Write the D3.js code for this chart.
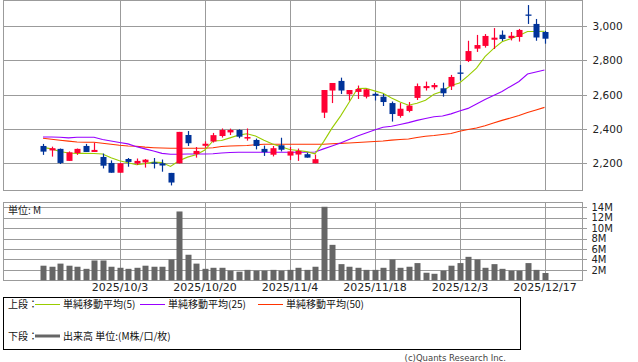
<!DOCTYPE html>
<html><head><meta charset="utf-8">
<script src="https://cdn.jsdelivr.net/npm/d3@7"></script>
<style>
html,body{margin:0;padding:0;background:#fff;}
svg{display:block;}
text{font-family:"DejaVu Sans","Noto Sans CJK JP",sans-serif;}
.jp{font-family:"Noto Sans CJK JP","DejaVu Sans",sans-serif;}
</style></head>
<body>
<svg id="c" width="638" height="362"></svg>
<script>
const dates = ["2025/9/19","2025/9/22","2025/9/24","2025/9/25","2025/9/26","2025/9/29","2025/9/30","2025/10/1","2025/10/2","2025/10/3",
"2025/10/6","2025/10/7","2025/10/8","2025/10/9","2025/10/10","2025/10/14","2025/10/15","2025/10/16","2025/10/17","2025/10/20",
"2025/10/21","2025/10/22","2025/10/23","2025/10/24","2025/10/27","2025/10/28","2025/10/29","2025/10/30","2025/10/31","2025/11/4",
"2025/11/5","2025/11/6","2025/11/7","2025/11/10","2025/11/11","2025/11/12","2025/11/13","2025/11/14","2025/11/17","2025/11/18",
"2025/11/19","2025/11/20","2025/11/21","2025/11/25","2025/11/26","2025/11/27","2025/11/28","2025/12/1","2025/12/2","2025/12/3",
"2025/12/4","2025/12/5","2025/12/8","2025/12/9","2025/12/10","2025/12/11","2025/12/12","2025/12/15","2025/12/16","2025/12/17"];
const open  = [2301,2275,2284,2214,2260,2301,2266,2237,2202,2145,2225,2199,2205,2205,2200,2144,2200,2365,2254,2302,
2327,2359,2380,2394,2344,2336,2284,2250,2305,2245,2251,2253,2200,2495,2624,2680,2602,2616,2588,2605,
2588,2551,2476,2505,2581,2638,2643,2637,2648,2729,2796,2868,2884,2920,2949,2930,2936,3067,3012,2965];
const high  = [2313,2297,2286,2269,2286,2313,2320,2257,2217,2202,2231,2228,2225,2231,2222,2144,2383,2388,2295,2328,
2377,2403,2402,2398,2403,2344,2303,2301,2349,2295,2286,2262,2251,2627,2668,2699,2627,2653,2634,2613,
2604,2560,2551,2557,2665,2676,2668,2670,2715,2773,2914,2948,2953,2988,2974,2965,2983,3122,3041,2971];
const low   = [2249,2239,2196,2214,2249,2266,2266,2170,2145,2145,2180,2190,2175,2170,2151,2071,2199,2301,2233,2291,
2321,2350,2365,2346,2332,2281,2243,2240,2269,2219,2214,2233,2200,2464,2551,2604,2566,2575,2578,2566,
2534,2443,2466,2497,2569,2624,2630,2588,2627,2683,2790,2849,2874,2866,2913,2916,2909,3012,2914,2897];
const close = [2268,2288,2202,2264,2284,2266,2278,2186,2145,2200,2208,2214,2221,2202,2187,2088,2383,2317,2272,2314,
2364,2394,2394,2355,2353,2301,2265,2288,2279,2269,2272,2233,2224,2627,2668,2624,2627,2633,2631,2594,
2557,2487,2518,2536,2650,2650,2656,2608,2703,2723,2854,2889,2942,2932,2924,2943,2977,3064,2933,2926];
const ma5  = [2293,2284,2269,2260,2258,2258,2257,2254,2232,2215,2203,2192,2198,2207,2205,2182,2215,2236,2250,2276,
2330,2333,2348,2364,2372,2359,2334,2312,2297,2280,2275,2268,2255,2325,2405,2475,2554,2636,2637,2622,
2608,2580,2557,2538,2550,2568,2602,2620,2653,2668,2709,2755,2822,2868,2908,2926,2944,2968,2968,2969];
const ma25 = [2353,2353,2352,2348,2352,2352,2352,2339,2330,2321,2313,2297,2284,2272,2258,2253,2253,2254,2254,2254,
2256,2260,2263,2264,2264,2264,2264,2264,2264,2264,2264,2264,2266,2284,2301,2318,2339,2359,2377,2394,
2410,2416,2426,2437,2450,2461,2471,2476,2488,2505,2520,2546,2572,2595,2618,2648,2677,2720,2732,2744];
const ma50 = [2346,2340,2334,2329,2324,2323,2323,2317,2311,2305,2301,2299,2294,2291,2289,2288,2288,2288,2288,2288,
2291,2298,2301,2302,2304,2308,2311,2311,2311,2311,2311,2311,2311,2311,2314,2316,2318,2321,2324,2327,
2330,2335,2339,2342,2350,2358,2362,2368,2374,2387,2397,2406,2419,2435,2450,2464,2479,2496,2511,2526];
const volume = [2.8,2.6,3.2,2.8,2.6,2.2,3.8,3.8,2.6,2.4,2.2,2.4,2.8,2.6,2.6,4.0,13.2,4.9,3.2,2.2,
2.4,2.4,1.85,1.65,2.0,1.85,1.85,2.0,1.85,2.0,2.4,2.0,2.6,14.1,6.8,3.1,2.6,2.4,2.0,2.0,
2.4,4.0,2.4,2.6,3.3,1.45,1.25,1.85,2.8,3.3,4.5,4.0,2.4,3.1,2.2,1.85,1.85,3.3,2.0,1.4];
const priceTicks = [2200,2400,2600,2800,3000];
const volTicks = [2,4,6,8,10,12,14];
const dateTicks = ["2025/10/3","2025/10/20","2025/11/4","2025/11/18","2025/12/3","2025/12/17"];
const maNames = ["単純移動平均(5)","単純移動平均(25)","単純移動平均(50)"];

const svg = d3.select("#c");
const L = 3.5, R = 582.5;
const grid = "#9b9b9b";
const x = d3.scalePoint().domain(dates).range([43, 544.5]);
const y = d3.scaleLinear().domain([2200, 3000]).range([163.3, 26]);
const yv = d3.scaleLinear().domain([0, 14]).range([280.3, 207.3]);

// ---- price panel ----
const gp = svg.append("g");
const pyAxis = d3.axisRight(y).tickValues(priceTicks).tickSize(-(R - L)).tickFormat(d3.format(","));
gp.append("g").attr("transform", `translate(${R},0)`).call(pyAxis)
  .call(g => { g.select(".domain").remove();
    g.selectAll(".tick line").attr("stroke", grid).attr("x2", -(R-L)).attr("x1", 4).attr("shape-rendering","crispEdges");
    g.selectAll(".tick text").attr("x", 10).attr("fill", "#222").attr("font-size", "10.5px").attr("font-family","DejaVu Sans"); });
gp.selectAll(".vg").data(dateTicks).join("line")
  .attr("x1", d => Math.round(x(d)) + 0.5).attr("x2", d => Math.round(x(d)) + 0.5)
  .attr("y1", 0.5).attr("y2", 190.5).attr("stroke", grid).attr("shape-rendering","crispEdges");
gp.append("rect").attr("x", L).attr("y", 0.5).attr("width", R - L).attr("height", 190)
  .attr("fill", "none").attr("stroke", grid).attr("shape-rendering","crispEdges");

// moving averages
const maCols = ["#99cc00", "#9900ff", "#ff3300"];
[ma50, ma25, ma5].forEach((arr, k) => {
  const col = [maCols[2], maCols[1], maCols[0]][k];
  gp.append("path").datum(arr)
    .attr("d", d3.line().x((d, i) => x(dates[i])).y(d => y(d)))
    .attr("fill", "none").attr("stroke", col).attr("stroke-width", 1.1);
});

// candles
const up = "#ff0033", dn = "#003399";
const cg = gp.append("g");
dates.forEach((d, i) => {
  const col = close[i] >= open[i] ? up : dn;
  const cx = Math.round(x(d));
  cg.append("line").attr("x1", cx + 0.5).attr("x2", cx + 0.5)
    .attr("y1", y(high[i])).attr("y2", y(low[i])).attr("stroke", col).attr("stroke-width", 1.2);
  const top = y(Math.max(open[i], close[i])), bot = y(Math.min(open[i], close[i]));
  cg.append("rect").attr("x", cx - 2.5).attr("width", 6)
    .attr("y", top).attr("height", Math.max(1.3, bot - top)).attr("fill", col);
});

// ---- volume panel ----
const gv = svg.append("g");
const vAxis = d3.axisRight(yv).tickValues(volTicks).tickSize(-(R - L)).tickFormat(d => d + "M");
gv.append("g").attr("transform", `translate(${R},0)`).call(vAxis)
  .call(g => { g.select(".domain").remove();
    g.selectAll(".tick line").attr("stroke", grid).attr("x2", -(R-L)).attr("x1", 4).attr("shape-rendering","crispEdges");
    g.selectAll(".tick text").attr("x", 9).attr("fill", "#222").attr("font-size", "10px").attr("font-family","DejaVu Sans"); });
gv.selectAll(".vg").data(dateTicks).join("line")
  .attr("x1", d => Math.round(x(d)) + 0.5).attr("x2", d => Math.round(x(d)) + 0.5)
  .attr("y1", 202.5).attr("y2", 280.5).attr("stroke", grid).attr("shape-rendering","crispEdges");
gv.append("rect").attr("x", L).attr("y", 202.5).attr("width", R - L).attr("height", 78)
  .attr("fill", "none").attr("stroke", grid).attr("shape-rendering","crispEdges");
gv.selectAll(".bar").data(volume).join("rect")
  .attr("x", (d, i) => Math.round(x(dates[i])) - 2.5).attr("width", 6)
  .attr("y", d => yv(d)).attr("height", d => yv(0) - yv(d)).attr("fill", "#666666");
gv.append("text").attr("class","jp").attr("x", 8).attr("y", 214).attr("font-size", "10px").attr("fill", "#222").text("単位: M");

// date axis labels
const xAxis = d3.axisBottom(x).tickValues(dateTicks).tickSize(0).tickFormat(d => d);
svg.append("g").attr("transform", "translate(0,281)").call(xAxis)
  .call(g => { g.select(".domain").remove();
    g.selectAll(".tick text").attr("y", 2).attr("dy", "0.71em").attr("fill", "#222").attr("font-size", "11px").attr("font-family","DejaVu Sans"); });

// ---- legend ----
const lg = svg.append("g");
lg.append("rect").attr("x", 3.5).attr("y", 297.5).attr("width", 517).attr("height", 52)
  .attr("fill", "none").attr("stroke", "#000").attr("shape-rendering","crispEdges");
const fs = "10px";
lg.append("text").attr("class","jp").attr("x", 8).attr("y", 307.8).attr("font-size", fs).attr("fill","#111").text("上段：");
const lx = [35, 140, 258];
maNames.forEach((n, k) => {
  lg.append("line").attr("x1", lx[k]).attr("x2", lx[k] + 25).attr("y1", 304.5).attr("y2", 304.5).attr("stroke", maCols[k]);
  lg.append("text").attr("class","jp").attr("x", lx[k] + 28).attr("y", 307.8).attr("font-size", fs).attr("fill","#111").text(n);
});
lg.append("text").attr("class","jp").attr("x", 8).attr("y", 339.8).attr("font-size", fs).attr("fill","#111").text("下段：");
lg.append("line").attr("x1", 35).attr("x2", 60).attr("y1", 336).attr("y2", 336).attr("stroke", "#666").attr("stroke-width", 3);
lg.append("text").attr("class","jp").attr("x", 63).attr("y", 339.8).attr("font-size", fs).attr("fill","#111").text("出来高 単位:(M株/口/枚)");

svg.append("text").attr("x", 506).attr("y", 361).attr("text-anchor", "end")
  .attr("font-size", "8.5px").attr("fill", "#444").attr("font-family","Liberation Sans").text("(c)Quants Research Inc.");
</script>
</body></html>
